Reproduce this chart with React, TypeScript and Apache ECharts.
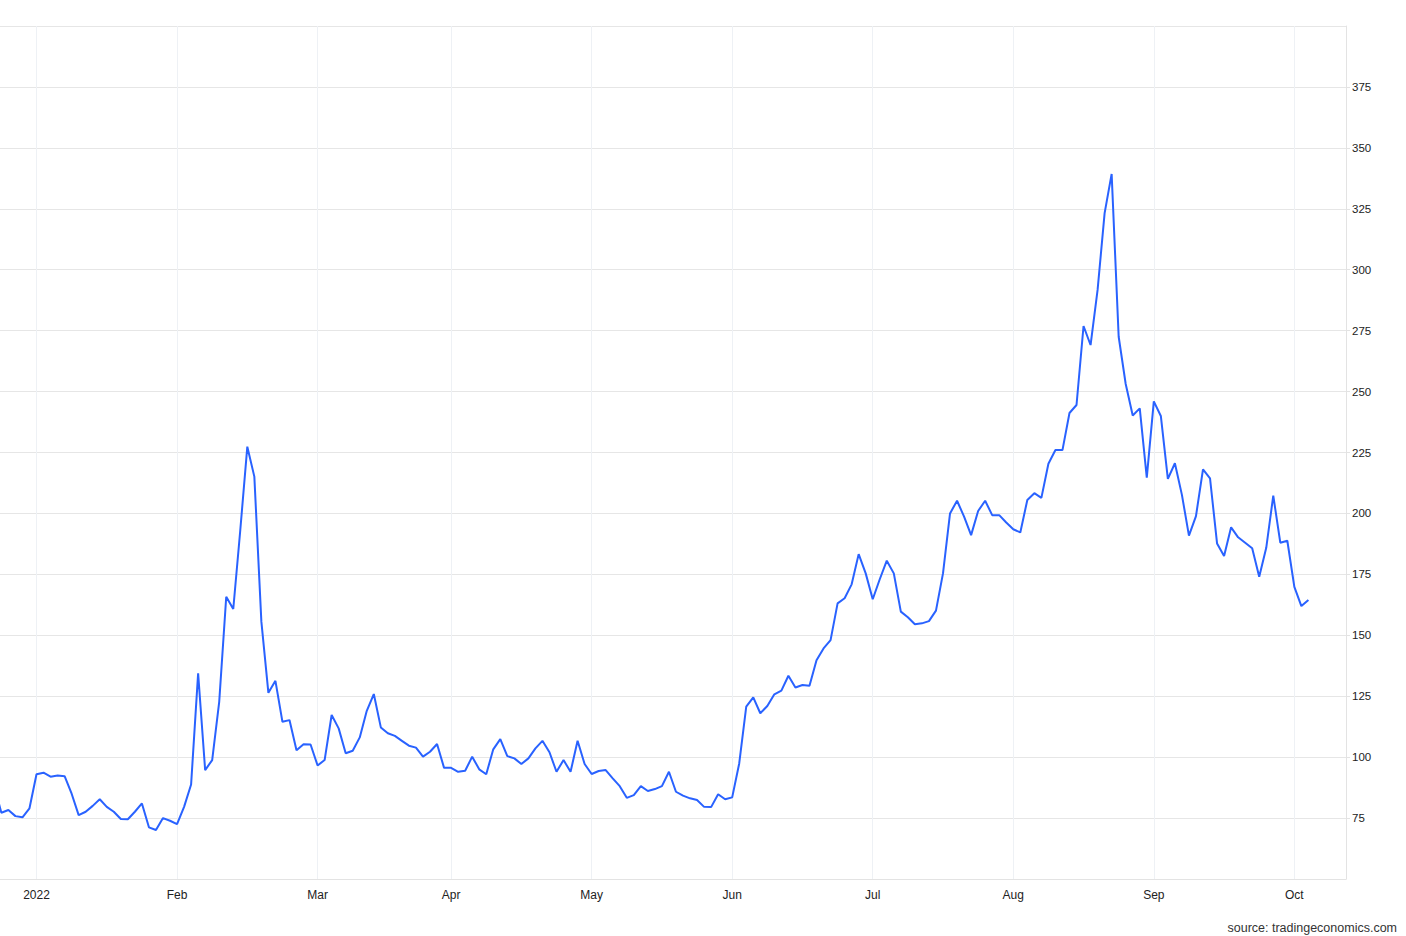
import React, { useEffect, useRef } from "react";
import * as echarts from "echarts";

// Daily closing values (one entry per trading session, index 0 = last session before the visible window)
const values: number[] = [
  88, 77.2, 78.3, 75.8, 75.3, 79, 93, 93.6, 92, 92.5,
  92.2, 85, 76.2, 77.6, 80, 82.7, 79.6, 77.6, 74.6, 74.5,
  77.6, 81, 71.2, 70.1, 75, 73.9, 72.5, 79.6, 88.8, 134.4,
  94.7, 98.8, 122.7, 165.8, 160.8, 193.2, 227.4, 215.1, 155.6, 126.4,
  131.3, 114.5, 115.2, 102.8, 105.3, 105.2, 96.6, 98.8, 117.3, 111.8,
  101.6, 102.6, 108.1, 119, 125.9, 112.2, 109.8, 108.7, 106.7, 104.7,
  103.9, 100.2, 102.2, 105.4, 95.6, 95.6, 94, 94.4, 100.2, 95,
  93, 103.2, 107.4, 100.4, 99.5, 97.2, 99.5, 103.6, 106.7, 102,
  94, 98.8, 94, 106.7, 97.2, 93.1, 94.3, 94.7, 91.3, 88.1,
  83.3, 84.4, 88.1, 86.1, 86.9, 88.1, 94, 85.8, 84.2, 83.1,
  82.4, 79.6, 79.5, 84.8, 82.7, 83.5, 97.4, 120.7, 124.5, 118,
  121, 125.8, 127.3, 133.4, 128.6, 129.6, 129.3, 139.8, 144.6, 148,
  163.1, 165.2, 170.9, 183.3, 175.4, 164.8, 173, 180.6, 175.4, 159.7,
  157.4, 154.5, 154.9, 155.8, 160.1, 175.4, 200, 205.2, 198.7, 191.1,
  201, 205.2, 199.3, 199.3, 196.3, 193.5, 192.2, 205.5, 208.3, 206.4,
  220.4, 226, 226, 241.2, 244.5, 276.9, 269.1, 291.7, 323.2, 339.3,
  272.5, 253.1, 240.2, 243.1, 214.7, 246, 240, 214.2, 220.6, 207.6,
  190.9, 198.9, 218.1, 214.4, 187.7, 182.5, 194.3, 190.2, 188, 185.7,
  174, 185.9, 207.3, 188, 188.8, 169.9, 162, 164.5,
];

// Session index at which each month starts, and its tick label
const monthStartIndex: number[] = [6, 26, 46, 65, 85, 105, 125, 145, 165, 185];
const monthLabels: string[] = ["2022", "Feb", "Mar", "Apr", "May", "Jun", "Jul", "Aug", "Sep", "Oct"];

// Y axis range and tick step
const yMin = 50;
const yMax = 400;
const yStep = 25;

const sourceText = "source: tradingeconomics.com";

export default function App() {
  const ref = useRef<HTMLDivElement>(null);

  useEffect(() => {
    if (!ref.current) return;
    const chart = echarts.init(ref.current, null, { renderer: "svg" });
    const font = "'Liberation Sans', Arial, sans-serif";
    chart.setOption({
      animation: false,
      backgroundColor: "#ffffff",
      grid: {
        left: 0,
        right: 60,
        top: 26,
        bottom: 57,
        containLabel: false,
        outerBoundsMode: "none",
      },
      xAxis: {
        type: "value",
        min: 0.805,
        max: 192.35,
        axisLine: { show: true, lineStyle: { color: "#e3e3e3", width: 1 } },
        axisTick: { show: false, customValues: monthStartIndex },
        axisLabel: {
          customValues: monthStartIndex,
          formatter: (v: number) => {
            const k = monthStartIndex.indexOf(Math.round(v));
            return k >= 0 ? monthLabels[k] : "";
          },
          color: "#222222",
          fontSize: 12,
          fontFamily: font,
          margin: 10,
        },
        splitLine: { show: true, lineStyle: { color: "#eef1f5", width: 1 } },
      },
      yAxis: {
        type: "value",
        position: "right",
        min: yMin,
        max: yMax,
        interval: yStep,
        axisLine: { show: true, lineStyle: { color: "#e3e3e3", width: 1 } },
        axisTick: { show: true, inside: false, length: 4, lineStyle: { color: "#e3e3e3" } },
        axisLabel: {
          showMinLabel: false,
          showMaxLabel: false,
          color: "#222222",
          fontSize: 11.5,
          fontFamily: font,
          margin: 6,
        },
        splitLine: { show: true, lineStyle: { color: "#e6e6e6", width: 1 } },
      },
      graphic: [
        {
          type: "text",
          right: 9,
          top: 921,
          style: {
            text: sourceText,
            fill: "#333333",
            fontSize: 12.5,
            fontFamily: font,
          },
        },
      ],
      series: [
        {
          type: "line",
          data: values.map((v, i) => [i, v]),
          showSymbol: false,
          symbol: "none",
          clip: true,
          lineStyle: { color: "#2962ff", width: 2 },
          itemStyle: { color: "#2962ff" },
        },
      ],
    });
    return () => chart.dispose();
  }, []);

  return (
    <div
      ref={ref}
      style={{ position: "fixed", left: 0, top: 0, width: 1406, height: 936, background: "#fff" }}
    />
  );
}
